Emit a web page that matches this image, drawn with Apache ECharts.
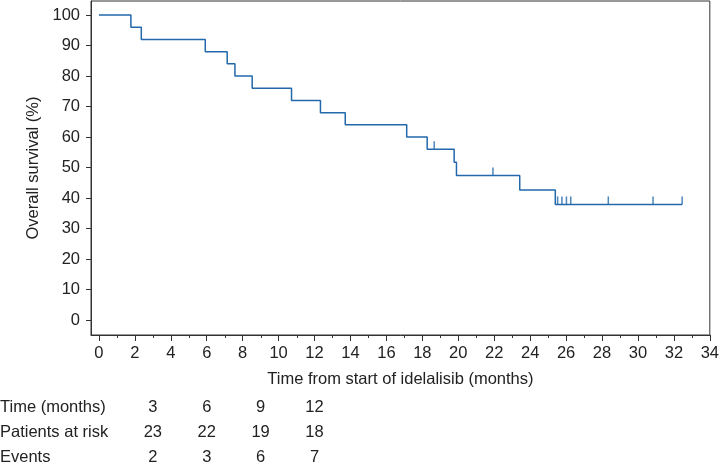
<!DOCTYPE html>
<html>
<head>
<meta charset="utf-8">
<script src="https://cdn.jsdelivr.net/npm/echarts@6/dist/echarts.min.js"></script>
<style>html,body{margin:0;padding:0;background:#fff}#c{width:722px;height:465px}</style>
</head>
<body>
<div id="c"></div>
<script>
// Kaplan-Meier step points (time in months, survival %)
const eventTimes = [0, 1.78, 2.36, 5.92, 7.14, 7.57, 8.53, 10.72, 12.33, 13.71, 17.13, 18.27, 19.77, 19.9, 23.42, 25.4, 32.46];
const survival   = [100, 96, 92, 88, 84, 80, 76, 72, 68, 64, 60, 56, 51.7, 47.4, 42.6, 37.9, 37.9];
// censoring marks
const censorTimes = [18.66, 21.93, 25.53, 25.77, 26.02, 26.26, 28.35, 30.84, 32.46];
// x axis ticks
const xMajorTicks = [0,2,4,6,8,10,12,14,16,18,20,22,24,26,28,30,32,34];
const xMinorTicks = [1,3,5,7,9,11,13,15,17,19,21,23,25,27,29,31,33];
const yTicks = [0,10,20,30,40,50,60,70,80,90,100];
// risk table
const tableRowLabels = ['Time (months)', 'Patients at risk', 'Events'];
const tableTimes = [3, 6, 9, 12];
const atRisk = [23, 22, 19, 18];
const eventsCount = [2, 3, 6, 7];

const lineColor = '#2268aa';
const textColor = '#222';
const font = 'Liberation Sans, Arial, sans-serif';
const fs = 16.5;
const yMin = -4.9, yMax = 104.6;

function survAt(t) {
  let s = survival[0];
  for (let i = 0; i < eventTimes.length; i++) { if (eventTimes[i] <= t) s = survival[i]; }
  return s;
}

const chart = echarts.init(document.getElementById('c'), null, {renderer: 'canvas'});
const option = {
  backgroundColor: '#fff',
  animation: false,
  grid: {left: 91, right: 9, top: 1, bottom: 130, show: true, borderColor: '#333', borderWidth: 1, backgroundColor: 'transparent'},
  xAxis: {
    type: 'value', min: -0.44, max: 34,
    name: 'Time from start of idelalisib (months)', nameLocation: 'middle', nameGap: 36,
    nameTextStyle: {fontSize: fs, color: textColor, fontFamily: font},
    axisLine: {show: true, onZero: false, lineStyle: {color: '#333', width: 1}},
    axisTick: {show: true, length: 6, customValues: xMajorTicks, lineStyle: {color: '#333'}},
    axisLabel: {show: true, customValues: xMajorTicks, margin: 10, fontSize: fs, color: textColor, fontFamily: font},
    splitLine: {show: false}
  },
  yAxis: {
    type: 'value', min: yMin, max: yMax,
    name: 'Overall survival (%)', nameLocation: 'middle', nameGap: 38, nameRotate: 90,
    nameTextStyle: {fontSize: fs, color: textColor, fontFamily: font},
    axisLine: {show: true, onZero: false, lineStyle: {color: '#333', width: 1}},
    axisTick: {show: true, length: 5, customValues: yTicks, lineStyle: {color: '#333'}},
    axisLabel: {show: true, customValues: yTicks, margin: 11, fontSize: fs, color: textColor, fontFamily: font},
    splitLine: {show: false}
  },
  series: [{
    type: 'line', step: 'end', showSymbol: false, symbol: 'none',
    lineStyle: {color: lineColor, width: 1.5},
    data: eventTimes.map((t, i) => [t, survival[i]])
  }, {
    type: 'scatter', symbol: 'rect', symbolSize: [1.5, 8], symbolOffset: [0, '-50%'],
    itemStyle: {color: lineColor},
    data: censorTimes.map(t => [t, survAt(t)])
  }]
};
chart.setOption(option);

// minor x-axis ticks at odd months, positioned through the x/y scales
const graphics = [];
xMinorTicks.forEach(t => {
  const p = chart.convertToPixel({xAxisIndex: 0, yAxisIndex: 0}, [t, yMin]);
  const x = Math.round(p[0]) + 0.5;
  graphics.push({type: 'line', z: 100, shape: {x1: x, y1: Math.round(p[1]), x2: x, y2: Math.round(p[1]) + 3}, style: {stroke: '#333', lineWidth: 1}});
});

// risk table under the axis, columns aligned to the time axis
const rowY = [407, 432, 457];
tableRowLabels.forEach((lab, r) => {
  graphics.push({type: 'text', x: 0, y: rowY[r], style: {text: lab, fontSize: fs, fill: textColor, fontFamily: font, align: 'left', verticalAlign: 'middle'}});
});
const rows = [tableTimes, atRisk, eventsCount];
tableTimes.forEach((t, c) => {
  const px = chart.convertToPixel({xAxisIndex: 0}, t);
  rows.forEach((arr, r) => {
    graphics.push({type: 'text', x: px, y: rowY[r], style: {text: String(arr[c]), fontSize: fs, fill: textColor, fontFamily: font, align: 'center', verticalAlign: 'middle'}});
  });
});
chart.setOption({graphic: graphics});
</script>
</body>
</html>
